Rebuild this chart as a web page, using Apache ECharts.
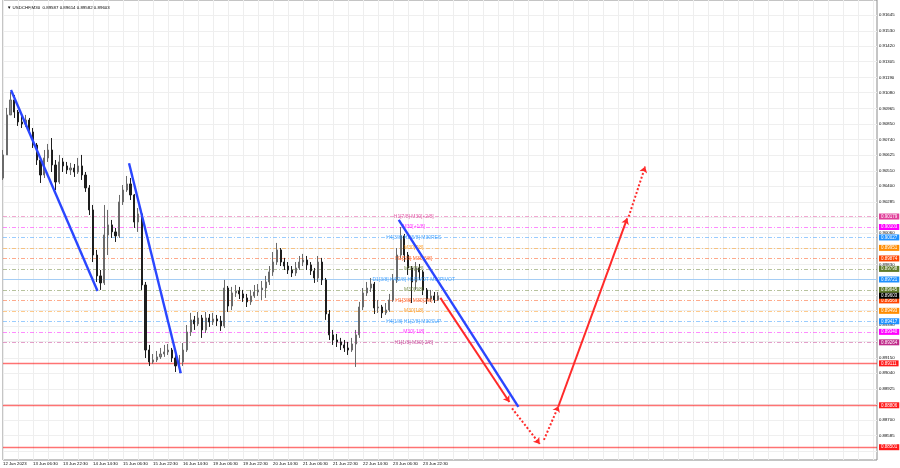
<!DOCTYPE html>
<html><head><meta charset="utf-8">
<script src="https://cdn.jsdelivr.net/npm/echarts@6.0.0/dist/echarts.min.js"></script>
<style>html,body{margin:0;padding:0;background:#fff}#c{width:900px;height:468px}</style>
</head><body><div id="c"></div>
<script>
const titleText = '\u25BC USDCHF,M30  0.89587 0.89614 0.89582 0.89603';
const xLabels = ['12 Jun 2023','13 Jun 06:30','13 Jun 22:30','14 Jun 14:30','15 Jun 06:30','15 Jun 22:30','16 Jun 14:30','19 Jun 06:30','19 Jun 22:30','20 Jun 14:30','21 Jun 06:30','21 Jun 22:30','22 Jun 14:30','23 Jun 06:30','23 Jun 22:30'];
const yTicks = [0.91645,0.91530,0.91420,0.91305,0.91190,0.91080,0.90965,0.90850,0.90740,0.90625,0.90510,0.90400,0.90285,0.90175,0.90060,0.89950,0.89835,0.89720,0.89610,0.89495,0.89380,0.89270,0.89150,0.89040,0.88925,0.88810,0.88700,0.88585,0.88470];
const yTicksShown = [0.91645,0.91530,0.91420,0.91305,0.91190,0.91080,0.90965,0.90850,0.90740,0.90625,0.90510,0.90400,0.90285,0.90060,0.89830,0.89390,0.89150,0.89040,0.88925,0.88700,0.88585];

const opens = [0.90459,0.90627,0.90918,0.91027,0.90939,0.90867,0.90852,0.90881,0.90794,0.90699,
0.90590,0.90481,0.90605,0.90663,0.90554,0.90430,0.90576,0.90547,0.90518,0.90532,
0.90503,0.90547,0.90481,0.90387,0.90227,0.89899,0.89747,0.89696,0.90045,0.90118,
0.90067,0.90038,0.90285,0.90372,0.90416,0.90336,0.90139,0.90198,0.89681,0.89208,
0.89121,0.89136,0.89158,0.89179,0.89194,0.89208,0.89150,0.89092,0.89121,0.89208,
0.89339,0.89427,0.89398,0.89441,0.89354,0.89441,0.89412,0.89434,0.89419,0.89383,
0.89659,0.89528,0.89623,0.89638,0.89616,0.89587,0.89558,0.89601,0.89630,0.89645,
0.89659,0.89703,0.89776,0.89848,0.89936,0.89848,0.89819,0.89790,0.89768,0.89805,
0.89848,0.89863,0.89827,0.89783,0.89732,0.89848,0.89718,0.89470,0.89318,0.89281,
0.89267,0.89245,0.89223,0.89208,0.89252,0.89318,0.89521,0.89623,0.89659,0.89688,
0.89514,0.89521,0.89478,0.89499,0.89572,0.89718,0.89899,0.90038,0.89899,0.89805,
0.89703,0.89805,0.89776,0.89645,0.89579,0.89601,0.89572];
const closes = [0.90627,0.90918,0.91027,0.90939,0.90867,0.90852,0.90881,0.90794,0.90699,0.90590,
0.90481,0.90605,0.90663,0.90554,0.90430,0.90576,0.90547,0.90518,0.90532,0.90503,
0.90547,0.90481,0.90387,0.90227,0.89899,0.89747,0.89696,0.90045,0.90118,0.90067,
0.90038,0.90285,0.90372,0.90416,0.90336,0.90139,0.90198,0.89681,0.89208,0.89121,
0.89136,0.89158,0.89179,0.89194,0.89208,0.89150,0.89092,0.89121,0.89208,0.89339,
0.89427,0.89398,0.89441,0.89354,0.89441,0.89412,0.89434,0.89419,0.89383,0.89659,
0.89528,0.89623,0.89638,0.89616,0.89587,0.89558,0.89601,0.89630,0.89645,0.89659,
0.89703,0.89776,0.89848,0.89936,0.89848,0.89819,0.89790,0.89768,0.89805,0.89848,
0.89863,0.89827,0.89783,0.89732,0.89848,0.89718,0.89470,0.89318,0.89281,0.89267,
0.89245,0.89223,0.89208,0.89252,0.89318,0.89521,0.89623,0.89659,0.89688,0.89514,
0.89521,0.89478,0.89499,0.89572,0.89718,0.89899,0.90038,0.89899,0.89805,0.89703,
0.89805,0.89776,0.89645,0.89579,0.89601,0.89572,0.89603];
const highs = [0.90663,0.90969,0.91085,0.91063,0.90954,0.90910,0.90918,0.90896,0.90823,0.90714,
0.90605,0.90663,0.90707,0.90750,0.90590,0.90627,0.90605,0.90576,0.90569,0.90561,
0.90605,0.90627,0.90503,0.90408,0.90263,0.89936,0.89790,0.90263,0.90227,0.90154,
0.90096,0.90336,0.90408,0.90474,0.90459,0.90343,0.90241,0.90212,0.89703,0.89245,
0.89179,0.89201,0.89223,0.89245,0.89252,0.89223,0.89194,0.89172,0.89259,0.89390,
0.89478,0.89456,0.89485,0.89463,0.89485,0.89470,0.89478,0.89463,0.89456,0.89718,
0.89674,0.89667,0.89681,0.89667,0.89645,0.89616,0.89645,0.89681,0.89688,0.89710,
0.89747,0.89819,0.89921,0.89987,0.89950,0.89878,0.89848,0.89819,0.89848,0.89892,
0.89907,0.89892,0.89848,0.89805,0.89892,0.89878,0.89732,0.89499,0.89354,0.89325,
0.89296,0.89281,0.89267,0.89296,0.89354,0.89558,0.89659,0.89703,0.89732,0.89703,
0.89572,0.89536,0.89550,0.89616,0.89761,0.89950,0.90103,0.90052,0.89921,0.89819,
0.89848,0.89834,0.89790,0.89659,0.89645,0.89630,0.89630];
const lows = [0.90445,0.90627,0.90918,0.90896,0.90838,0.90823,0.90830,0.90779,0.90678,0.90554,
0.90423,0.90459,0.90576,0.90503,0.90372,0.90416,0.90503,0.90489,0.90481,0.90467,
0.90489,0.90445,0.90358,0.90190,0.89848,0.89703,0.89645,0.89681,0.89899,0.90023,
0.89994,0.90023,0.90263,0.90358,0.90299,0.90096,0.90067,0.89645,0.89150,0.89092,
0.89107,0.89121,0.89143,0.89158,0.89172,0.89121,0.89048,0.89041,0.89092,0.89194,
0.89310,0.89354,0.89383,0.89296,0.89332,0.89376,0.89390,0.89383,0.89347,0.89368,
0.89485,0.89499,0.89594,0.89579,0.89558,0.89521,0.89536,0.89587,0.89601,0.89572,
0.89587,0.89681,0.89747,0.89827,0.89819,0.89790,0.89761,0.89739,0.89747,0.89790,
0.89819,0.89790,0.89754,0.89696,0.89703,0.89681,0.89427,0.89281,0.89245,0.89230,
0.89208,0.89194,0.89172,0.89194,0.89085,0.89296,0.89499,0.89601,0.89630,0.89470,
0.89478,0.89441,0.89463,0.89485,0.89558,0.89696,0.89878,0.89848,0.89754,0.89550,
0.89645,0.89718,0.89608,0.89543,0.89558,0.89550,0.89565];

const levelPrices = [0.90179,0.90103,0.90027,0.89951,0.89874,0.89798,0.89721,0.89645,0.89569,0.89493,0.89417,0.89340,0.89264];
const levelNames = ['H1[7/8] M30[+2/8]','M30[+1/8]','H4[3/8] H1[6/8] M30RES','M30[7/8]','H1[5/8] M30[6/8]','M30[5/8]','D1[3/8] H4[2/8] H1PIVOT M30PIVOT','M30[3/8]','H1[3/8] M30[2/8]','M30[1/8]','H4[1/8] H1[2/8] M30SUP','M30[-1/8]','H1[1/8] M30[-2/8]'];
const levelColors = ['#e0409a','#ff00ff','#1e90ff','#ff8c00','#ff4500','#5f7a28','#1e90ff','#5f7a28','#ff4500','#ff8c00','#1e90ff','#ff00ff','#c02b8a'];
const redLevels = [0.89111,0.88806,0.88501];
const bidPrice = 0.89603;

// [time slot start, price start, time slot end, price end]
const blueTrends = [[2.13,0.91099,25.2,0.89638],[33.6,0.90566,47.4,0.89039],[105.5,0.90154,137.4,0.88794]];
const redSolidArrows = [[116.6,0.89587,135.0,0.88830],[148.1,0.88801,166.4,0.90166]];
const redDottedArrows = [[135.7,0.88784,143.1,0.88525],[144.2,0.88554,148.1,0.88801],[166.8,0.90178,171.2,0.90542]];

const SLOTS = 234, LABEL_STEP = 8, TEXT_SLOT = 109.5;
const yMin = 0.88408, yMax = 0.91754;
const FONT = 'Liberation Sans';

function alpha(hex, a) {
  const n = parseInt(hex.slice(1), 16);
  return 'rgba(' + (n >> 16) + ',' + ((n >> 8) & 255) + ',' + (n & 255) + ',' + a + ')';
}
const cats = Array.from({length: SLOTS}, (_, i) => String(i));
const candles = opens.map((o, i) => [o, closes[i], lows[i], highs[i]]);
const pair = a => [{coord: [a[0], a[1]]}, {coord: [a[2], a[3]]}];
const hline = (v, extra) => [Object.assign({coord: [0, v]}, extra || {}), {coord: [SLOTS - 1, v]}];
const boxLabelV = (c, v) => ({show: true, position: 'end', distance: 2, formatter: v.toFixed(5),
  color: '#fff', backgroundColor: c, fontSize: 4.5, fontFamily: FONT, padding: [1, 2, 0, 2], opacity: 1});

const chart = echarts.init(document.getElementById('c'), null, {renderer: 'canvas'});
chart.setOption({
  animation: false,
  backgroundColor: '#ffffff',
  title: {text: titleText, left: 2, top: 1, textStyle: {fontSize: 4.4, fontWeight: 'normal', color: '#000', fontFamily: FONT}},
  grid: {left: 2, right: 23, top: 0, bottom: 8, show: true, borderColor: '#8a8a8a', borderWidth: 1},
  xAxis: [
    {type: 'category', data: cats, boundaryGap: false,
     axisLine: {show: false}, axisTick: {show: false},
     splitLine: {show: true, interval: 3, lineStyle: {color: '#eeeeee', width: 1}},
     axisLabel: {interval: LABEL_STEP - 1, formatter: (v, i) => xLabels[i / LABEL_STEP] || '',
       fontSize: 4.3, color: '#000', align: 'left', margin: 2, fontFamily: FONT}},
    {type: 'value', min: 0, max: SLOTS - 1, show: false}
  ],
  yAxis: {type: 'value', position: 'right', min: yMin, max: yMax, scale: true,
    axisLine: {show: false}, axisTick: {show: false}, splitLine: {show: false},
    axisLabel: {customValues: yTicksShown, formatter: v => v.toFixed(5), fontSize: 4.3, color: '#000', margin: 2, fontFamily: FONT}},
  series: [
    {type: 'scatter', name: 'grid', xAxisIndex: 1, data: [], silent: true, z: 0,
     markLine: {silent: true, symbol: 'none', z: 0, animation: false, label: {show: false},
       lineStyle: {color: '#efefef', type: 'solid', width: 1},
       data: yTicks.map(v => hline(v))}},
    {type: 'scatter', name: 'levels', xAxisIndex: 1, data: [], silent: true, z: 1,
     markLine: {silent: true, symbol: 'none', z: 1, animation: false,
       data: levelPrices.map((v, i) => hline(v, {
         lineStyle: {color: alpha(levelColors[i], i === 6 ? 0.35 : 0.45), width: 1, opacity: 1, type: i === 6 ? 'solid' : [4, 2, 1, 2]},
         label: boxLabelV(levelColors[i], v)}))
         .concat([hline(bidPrice, {lineStyle: {color: 'rgba(0,0,0,0)', width: 1, opacity: 1}, label: boxLabelV('#000000', bidPrice)})])}},
    {type: 'scatter', name: 'redLevelBoxes', xAxisIndex: 1, data: [], silent: true, z: 1,
     markLine: {silent: true, symbol: 'none', z: 1, animation: false,
       lineStyle: {color: 'rgba(0,0,0,0)', width: 1},
       data: redLevels.map(v => hline(v, {label: boxLabelV('#ff1a1a', v)}))}},
    {type: 'scatter', name: 'redLevels', xAxisIndex: 1, data: [], silent: true, z: 1,
     markLine: {silent: true, symbol: 'none', z: 1, animation: false,
       lineStyle: {color: '#ff0000', width: 1.3, opacity: 0.55, type: 'solid'},
       label: {show: false},
       data: redLevels.map(v => hline(v))}},
    {type: 'candlestick', name: 'USDCHF', data: candles, barWidth: 1.6, z: 2,
     itemStyle: {color: '#8c8c8c', borderColor: '#6a6a6a', color0: '#1e1e1e', borderColor0: '#1e1e1e', borderWidth: 1}},
    {type: 'scatter', name: 'levelText', xAxisIndex: 1, symbolSize: 0, z: 3, silent: true,
     data: levelPrices.map((v, i) => ({value: [TEXT_SLOT, v],
       label: {show: true, position: 'inside', formatter: levelNames[i], color: levelColors[i], fontSize: 5, fontFamily: FONT}}))},
    {type: 'scatter', name: 'blue', xAxisIndex: 1, data: [], z: 4,
     markLine: {silent: true, symbol: 'none', z: 6, animation: false, label: {show: false},
       lineStyle: {color: '#2a46ff', width: 2.4, type: 'solid'}, data: blueTrends.map(pair)}},
    {type: 'scatter', name: 'redSolid', xAxisIndex: 1, data: [], z: 4,
     markLine: {silent: true, symbol: ['none', 'arrow'], symbolSize: 6, z: 6, animation: false, label: {show: false},
       lineStyle: {color: '#ff2a2a', width: 2, type: 'solid'}, data: redSolidArrows.map(pair)}},
    {type: 'scatter', name: 'redDotted', xAxisIndex: 1, data: [], z: 4,
     markLine: {silent: true, symbol: ['none', 'arrow'], symbolSize: 6, z: 6, animation: false, label: {show: false},
       lineStyle: {color: '#ff2a2a', width: 2, type: 'dotted'}, data: redDottedArrows.map(pair)}}
  ]
});
</script></body></html>
